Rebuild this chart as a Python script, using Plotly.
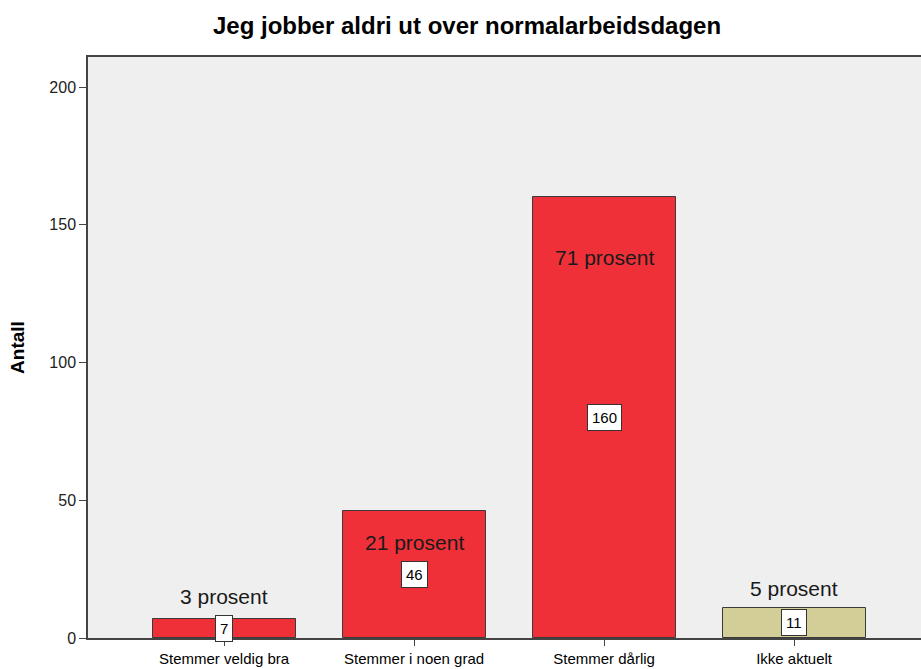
import plotly.graph_objects as go

categories = ["Stemmer veldig bra", "Stemmer i noen grad", "Stemmer dårlig", "Ikke aktuelt"]
counts = [7, 46, 160, 11]
percent_labels = ["3 prosent", "21 prosent", "71 prosent", "5 prosent"]
percent_label_y = [15.2, 34.5, 138, 17.8]
bar_colors = ["#EF3039", "#EF3039", "#EF3039", "#D3CE98"]

x_idx = list(range(len(categories)))
FONT = "Liberation Sans, Arial"

fig = go.Figure()
fig.add_trace(go.Bar(
    x=x_idx, y=counts, width=0.753,
    marker=dict(color=bar_colors, line=dict(color="#3a3a3a", width=1)),
    hoverinfo="skip", showlegend=False,
))

for i, (c, p, py) in enumerate(zip(counts, percent_labels, percent_label_y)):
    fig.add_annotation(x=i, y=c / 2, text=str(c), showarrow=False,
                       font=dict(family=FONT, size=15, color="#000"),
                       bgcolor="white", bordercolor="#333", borderwidth=1, borderpad=4)
    fig.add_annotation(x=i, y=py, text=p, showarrow=False,
                       font=dict(family=FONT, size=21, color="#1a1a1a"))

fig.update_layout(
    width=921, height=669,
    margin=dict(l=88, r=0, t=57, b=31),
    paper_bgcolor="white", plot_bgcolor="#EFEFEF",
    title=dict(text="<b>Jeg jobber aldri ut over normalarbeidsdagen</b>",
               x=467 / 921, xref="container", xanchor="center", y=1 - 26 / 669, yanchor="middle",
               font=dict(family=FONT, size=24, color="#000")),
    bargap=0,
)
fig.update_xaxes(
    range=[-0.716, 3.668], tickmode="array", tickvals=x_idx, ticktext=categories,
    showgrid=False, zeroline=False, showline=True, linecolor="#444", linewidth=1.5,
    mirror=True, ticks="outside", ticklen=6, tickcolor="#444",
    tickfont=dict(family=FONT, size=15, color="#000"),
)
fig.update_yaxes(
    range=[0, 210.9], tickvals=[0, 50, 100, 150, 200],
    showgrid=False, zeroline=False, showline=True, linecolor="#444", linewidth=1.5,
    ticks="outside", ticklen=7, tickcolor="#444",
    tickfont=dict(family=FONT, size=16, color="#222"),
    title=dict(text="<b>Antall</b>", font=dict(family=FONT, size=19, color="#000"),
               standoff=20),
)

fig.write_html("out.html", config={"displayModeBar": False})

with open("out.html", "r", encoding="utf-8") as f:
    html = f.read()
html = html.replace("<head>", "<head><style>html,body{margin:0;padding:0;overflow:hidden}</style>", 1)
with open("out.html", "w", encoding="utf-8") as f:
    f.write(html)
